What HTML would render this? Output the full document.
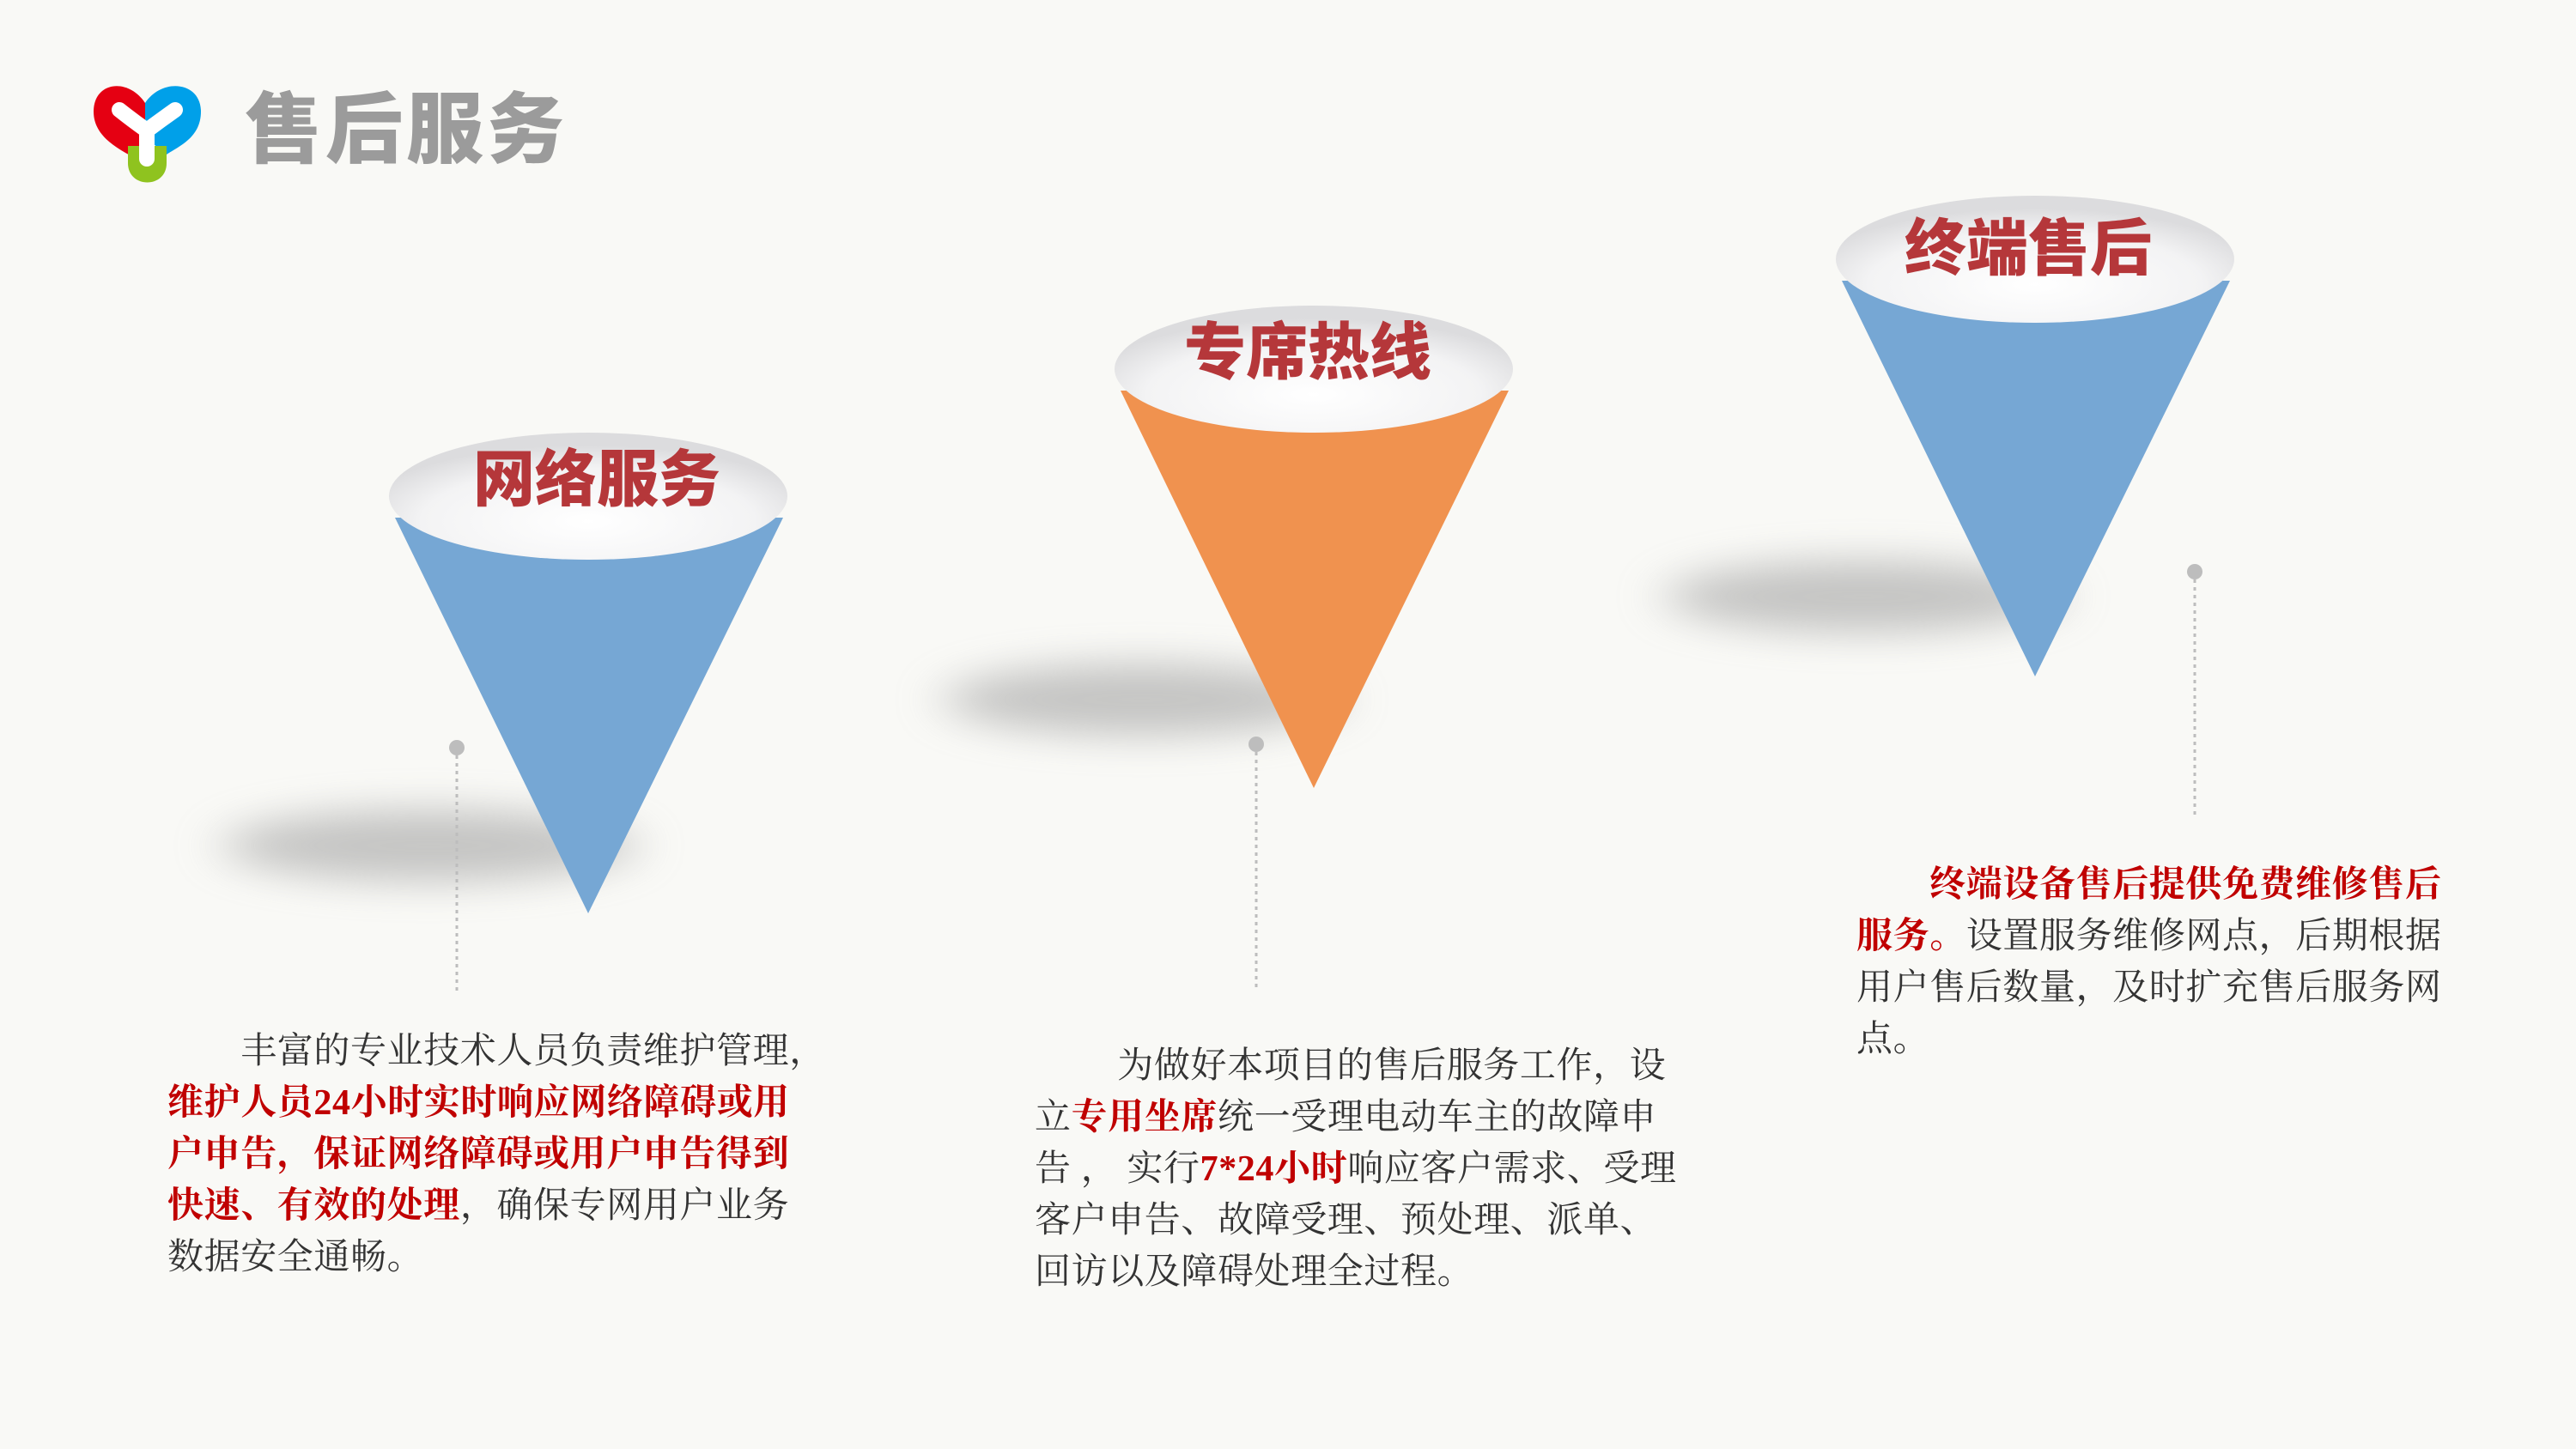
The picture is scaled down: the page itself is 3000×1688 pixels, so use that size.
<!DOCTYPE html>
<html><head><meta charset="utf-8"><style>
html,body{margin:0;padding:0}
body{width:3000px;height:1688px;background:#f9f9f6;position:relative;overflow:hidden;font-family:"Liberation Serif","Noto Serif CJK SC",serif}
.t{position:absolute;font-size:42px;letter-spacing:0.6px;line-height:60px;color:#333;white-space:pre}
.r{color:#c00000;font-weight:bold}
.h{position:absolute;font-family:"Liberation Sans","Noto Sans CJK SC",sans-serif;font-weight:900;color:#b5373a;font-size:72px;transform:translate(-50%,-50%);white-space:nowrap}
</style></head><body>
<svg width="3000" height="1688" style="position:absolute;left:0;top:0">
<defs>
<filter id="b" x="-50%" y="-200%" width="200%" height="500%"><feGaussianBlur stdDeviation="30 22"/></filter>
<radialGradient id="g" cx="50%" cy="70%" r="60%"><stop offset="0" stop-color="#ffffff"/><stop offset="0.7" stop-color="#f3f3f4"/><stop offset="1" stop-color="#dcdcde"/></radialGradient>
</defs>
<g transform="translate(109,90)">
<path d="M60 30 C40 0 0 5 0 40 C0 70 30 85 60 100 L60 30Z" fill="#e50012"/>
<path d="M60 30 C80 0 125 5 125 40 C125 70 100 80 85 90 L60 70Z" fill="#00a0e9"/>
<path d="M40 90 L40 80 L85 80 L85 100 C85 130 40 130 40 100Z" fill="#8fc31f"/>
<path d="M30 38 Q45 50 62 62 Q78 50 95 38 M62 62 L62 95" stroke="#fff" stroke-width="18" stroke-linecap="round" fill="none"/>
</g>
<ellipse cx="500" cy="985" rx="240" ry="42" fill="#9a9a9a" opacity=".55" filter="url(#b)"/>
<ellipse cx="1330" cy="815" rx="230" ry="42" fill="#9a9a9a" opacity=".55" filter="url(#b)"/>
<ellipse cx="2170" cy="695" rx="230" ry="42" fill="#9a9a9a" opacity=".55" filter="url(#b)"/>
<polygon points="460,603 912,603 685,1064" fill="#76a7d4"/>
<ellipse cx="685" cy="578" rx="232" ry="74" fill="url(#g)"/>
<polygon points="1305,455 1757,455 1530,918" fill="#f0924f"/>
<ellipse cx="1530" cy="430" rx="232" ry="74" fill="url(#g)"/>
<polygon points="2145,327 2597,327 2370,788" fill="#76a7d4"/>
<ellipse cx="2370" cy="302" rx="232" ry="74" fill="url(#g)"/>
<g fill="#bdbdbd" stroke="#bdbdbd" stroke-width="3" stroke-dasharray="4 5">
<circle cx="532" cy="871" r="9" stroke="none"/><line x1="532" y1="880" x2="532" y2="1157"/>
<circle cx="1463" cy="867" r="9" stroke="none"/><line x1="1463" y1="876" x2="1463" y2="1150"/>
<circle cx="2556" cy="666" r="9" stroke="none"/><line x1="2556" y1="675" x2="2556" y2="952"/>
</g>
</svg>
<div style="position:absolute;left:285px;top:100px;font-family:'Liberation Sans','Noto Sans CJK SC',sans-serif;font-weight:900;font-size:90px;line-height:104px;color:#9b9b9b;letter-spacing:4px">售后服务</div>
<div class="h" style="left:695px;top:552px">网络服务</div>
<div class="h" style="left:1523px;top:404px">专席热线</div>
<div class="h" style="left:2362px;top:283px">终端售后</div>

<div class="t" style="left:195px;top:1195px">　　丰富的专业技术人员负责维护管理，
<span class="r">维护人员24小时实时响应网络障碍或用</span>
<span class="r">户申告，保证网络障碍或用户申告得到</span>
<span class="r">快速、有效的处理</span>，确保专网用户业务
数据安全通畅。</div>

<div class="t" style="left:1205px;top:1212px">　　 为做好本项目的售后服务工作，设
立<span class="r">专用坐席</span>统一受理电动车主的故障申
告 ， 实行<span class="r">7*24小时</span>响应客户需求、受理
客户申告、故障受理、预处理、派单、
回访以及障碍处理全过程。</div>

<div class="t" style="left:2162px;top:1001px">　　<span class="r">终端设备售后提供免费维修售后</span>
<span class="r">服务。</span>设置服务维修网点，后期根据
用户售后数量，及时扩充售后服务网
点。</div>
</body></html>
